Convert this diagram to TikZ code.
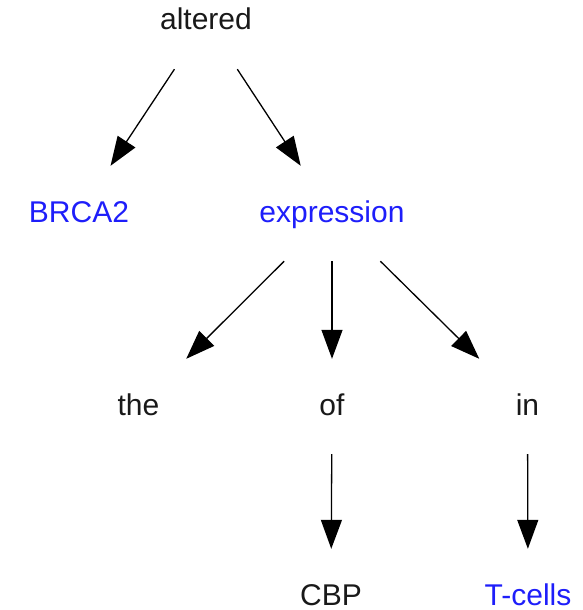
\documentclass[tikz,border=0pt]{standalone}
\usepackage{fontspec}
\setmainfont{Liberation Sans}
\usetikzlibrary{arrows.meta}
\definecolor{wordblue}{RGB}{30,30,250}
\definecolor{wordblack}{RGB}{25,25,25}
\begin{document}
\begin{tikzpicture}[x=1pt,y=-1pt,
  word/.style={anchor=base, inner sep=0pt, text height=56pt, text depth=39pt,
    minimum width=130pt, font=\fontsize{30}{35}\selectfont, text=wordblack},
  hl/.style={word, text=wordblue},
  dep/.style={line width=1.3pt, -{Triangle[length=29pt,width=21pt]}}]
\useasboundingbox (0,0) rectangle (583,610);
\node[word] (altered) at (206,30) {altered};
\node[hl] (brca) at (79,222) {BRCA2};
\node[hl] (expression) at (332,222) {expression};
\node[word] (the) at (138.5,415) {the};
\node[word] (of) at (332,415) {of};
\node[word] (in) at (527.5,415) {in};
\node[word] (cbp) at (331,605) {CBP};
\node[hl] (tcells) at (528,605) {T-cells};
\draw[dep] (altered) -- (brca);
\draw[dep] (altered) -- (expression);
\draw[dep] (expression) -- (the);
\draw[dep] (expression) -- (of);
\draw[dep] (expression) -- (in);
\draw[dep] (of) -- (cbp);
\draw[dep] (in) -- (tcells);
\end{tikzpicture}
\end{document}
